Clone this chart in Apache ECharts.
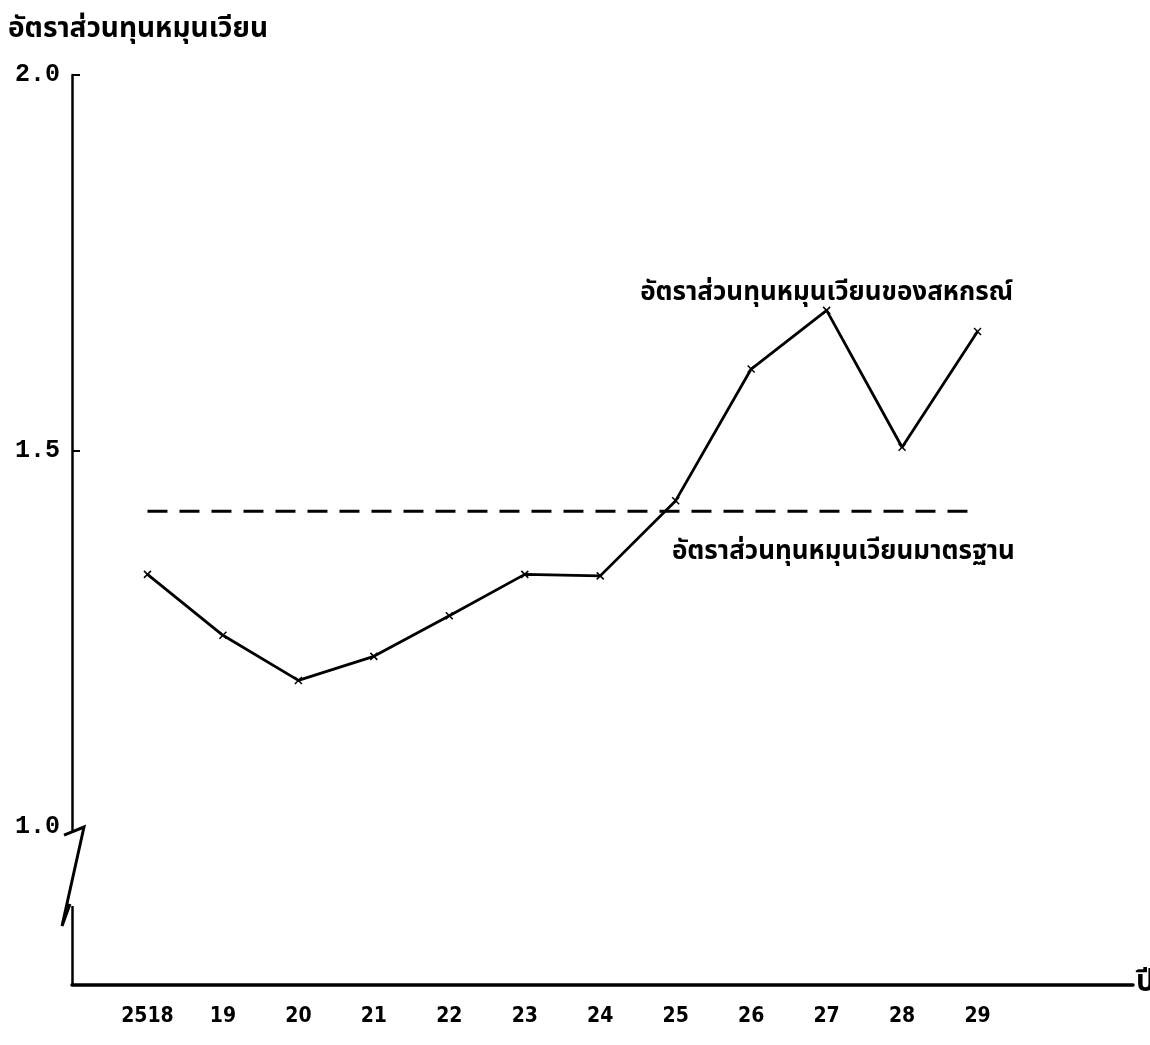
<!DOCTYPE html>
<html lang="th">
<head>
    <meta charset="UTF-8">
    <title>อัตราส่วนทุนหมุนเวียน</title>
    <style type="text/css">
        body, html{width:100%;height:100%;margin:0;background:#fff;}
        #main{width:1150px;height:1045px;}
    </style>
    <script src="https://cdn.jsdelivr.net/npm/echarts@6/dist/echarts.min.js"></script>
</head>
<body>
<div id="main"></div>
<script type="text/javascript">
    // ปี (พ.ศ.) 2518 - 2529
    var yearLabels = ['2518', '19', '20', '21', '22', '23', '24', '25', '26', '27', '28', '29'];
    // อัตราส่วนทุนหมุนเวียนของสหกรณ์
    var ratioValues = [1.336, 1.255, 1.195, 1.227, 1.281, 1.336, 1.334, 1.434, 1.609, 1.687, 1.505, 1.659];
    // อัตราส่วนทุนหมุนเวียนมาตรฐาน
    var standardValue = 1.42;
    var yTickValues = [1.0, 1.5, 2.0];

    var thaiFont = '"Noto Sans Thai", "Noto Sans", sans-serif';
    var xIdx = yearLabels.map(function (d, i) { return i + 1; });

    var chart = echarts.init(document.getElementById('main'), null, {renderer: 'canvas'});

    var option = {
        animation: false,
        backgroundColor: '#fff',
        grid: {left: 72, right: 17, top: 75, bottom: 60, outerBoundsMode: 'none'},
        xAxis: {
            type: 'value',
            min: 0,
            max: 14.06,
            name: 'ปี',
            nameLocation: 'end',
            nameGap: 3,
            nameTextStyle: {fontFamily: thaiFont, fontSize: 30, fontWeight: 'bold', color: '#000', verticalAlign: 'middle'},
            splitLine: {show: false},
            axisLine: {lineStyle: {color: '#000', width: 3.5}},
            axisTick: {show: false},
            axisLabel: {
                customValues: xIdx,
                formatter: function (v) { return yearLabels[Math.round(v) - 1]; },
                margin: 21,
                fontFamily: '"DejaVu Sans Condensed", sans-serif',
                fontWeight: 'bold',
                fontSize: 21,
                color: '#000'
            }
        },
        yAxis: {
            type: 'value',
            min: 0.79,
            max: 2.0,
            name: 'อัตราส่วนทุนหมุนเวียน',
            nameLocation: 'end',
            nameGap: 30,
            nameTextStyle: {fontFamily: thaiFont, fontSize: 28, fontWeight: 'bold', color: '#000', align: 'left', padding: [0, 0, 0, -64]},
            splitLine: {show: false},
            axisLine: {show: true, lineStyle: {color: '#000', width: 2.5}},
            axisTick: {show: true, inside: true, length: 8, customValues: [1.5, 2.0], lineStyle: {color: '#000', width: 2}},
            axisLabel: {
                customValues: yTickValues,
                formatter: function (v) { return v.toFixed(1); },
                margin: 12,
                fontFamily: '"Liberation Mono", monospace',
                fontWeight: 'bold',
                fontSize: 25,
                color: '#000'
            }
        },
        series: [
            {
                name: 'อัตราส่วนทุนหมุนเวียนของสหกรณ์',
                type: 'line',
                data: ratioValues.map(function (v, i) {
                    var p = {value: [xIdx[i], v]};
                    if (yearLabels[i] === '27') {
                        p.label = {
                            show: true,
                            position: 'top',
                            distance: -2,
                            formatter: 'อัตราส่วนทุนหมุนเวียนของสหกรณ์',
                            fontFamily: thaiFont,
                            fontSize: 26,
                            fontWeight: 'bold',
                            color: '#000'
                        };
                    }
                    return p;
                }),
                symbol: 'path://M0,0L10,10M10,0L0,10',
                symbolSize: 7,
                itemStyle: {color: '#000', borderColor: '#000', borderWidth: 1.5},
                lineStyle: {color: '#000', width: 2.8},
                z: 3
            },
            {
                name: 'อัตราส่วนทุนหมุนเวียนมาตรฐาน',
                type: 'line',
                data: [[xIdx[0], standardValue], [xIdx[xIdx.length - 1], standardValue]],
                symbol: 'none',
                lineStyle: {color: '#000', width: 3, type: [20, 12]},
                markPoint: {
                    symbol: 'circle',
                    symbolSize: 0,
                    data: [{coord: [7.95, 1.364]}],
                    label: {
                        show: true,
                        position: 'inside',
                        align: 'left',
                        formatter: 'อัตราส่วนทุนหมุนเวียนมาตรฐาน',
                        fontFamily: thaiFont,
                        fontSize: 26,
                        fontWeight: 'bold',
                        color: '#000'
                    }
                }
            }
        ]
    };
    chart.setOption(option);

    // เครื่องหมายตัดแกน (axis break) ใต้ 1.0
    var brkTop = chart.convertToPixel({gridIndex: 0}, [0, 1.0]);
    var brkBot = chart.convertToPixel({gridIndex: 0}, [0, 0.895]);
    chart.setOption({
        graphic: [
            {
                type: 'rect',
                shape: {x: brkTop[0] - 3, y: brkTop[1] + 4, width: 6, height: brkBot[1] - brkTop[1] - 4},
                style: {fill: '#fff'},
                z: 50
            },
            {
                type: 'polyline',
                shape: {points: [
                    [brkTop[0] - 8, brkTop[1] + 8], [brkTop[0] + 12, brkTop[1]],
                    [brkTop[0] - 10, brkBot[1] + 20], [brkTop[0] - 2, brkBot[1] - 2]
                ]},
                style: {stroke: '#000', lineWidth: 3, fill: null},
                z: 51
            }
        ]
    });
</script>
</body>
</html>
